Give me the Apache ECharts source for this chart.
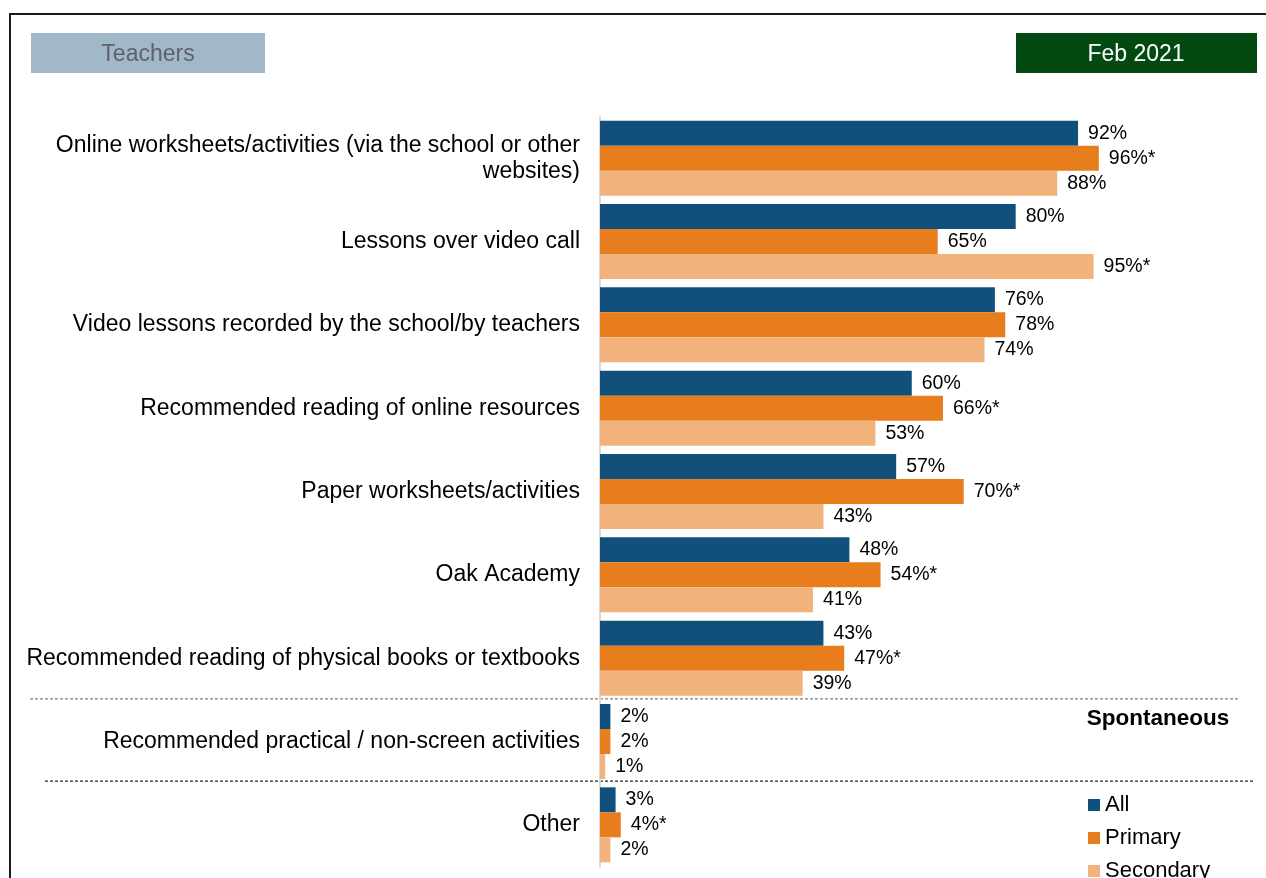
<!DOCTYPE html>
<html>
<head>
<meta charset="utf-8">
<title>Teachers – remote learning resources, Feb 2021</title>
<script src="https://cdn.jsdelivr.net/npm/echarts@6/dist/echarts.min.js"></script>
<style>
  html, body { margin: 0; padding: 0; background: #ffffff; }
  #chart { width: 1266px; height: 878px; }
</style>
</head>
<body>
<div id="chart"></div>
<script>
// Resources used for remote learning, by school phase (% of teachers)
const categories = [
  'Online worksheets/activities (via the school or other websites)',
  'Lessons over video call',
  'Video lessons recorded by the school/by teachers',
  'Recommended reading of online resources',
  'Paper worksheets/activities',
  'Oak Academy',
  'Recommended reading of physical books or textbooks',
  'Recommended practical / non-screen activities',
  'Other'
];
const allValues       = [92, 80, 76, 60, 57, 48, 43, 2, 3];
const primaryValues   = [96, 65, 78, 66, 70, 54, 47, 2, 4];
const secondaryValues = [88, 95, 74, 53, 43, 41, 39, 1, 2];
// significant-difference markers (*) shown after the value
const primaryFlags    = [1, 0, 0, 1, 1, 1, 1, 0, 1];
const secondaryFlags  = [0, 1, 0, 0, 0, 0, 0, 0, 0];
const allFlags        = [0, 0, 0, 0, 0, 0, 0, 0, 0];
const seriesNames = ['All', 'Primary', 'Secondary'];
const headerLeft = 'Teachers';
const headerRight = 'Feb 2021';
const sectionNote = 'Spontaneous';

const colors = ['#10507a', '#e87d1e', '#f2b27b'];
const FONT = '"Liberation Sans", Arial, sans-serif';
const CAT_FONT_SIZE = 23;
const CAT_WRAP_WIDTH = 560;

// word-wrap a category name without leaving trailing spaces on a line
const measureCtx = document.createElement('canvas').getContext('2d');
function wrapLabel(text) {
  measureCtx.font = CAT_FONT_SIZE + 'px ' + FONT;
  const words = text.split(' ');
  const lines = [];
  let line = '';
  words.forEach(function (w) {
    const trial = line ? line + ' ' + w : w;
    if (line && measureCtx.measureText(trial).width > CAT_WRAP_WIDTH) {
      lines.push(line);
      line = w;
    } else {
      line = trial;
    }
  });
  if (line) lines.push(line);
  return lines.join('\n');
}

function makeSeries(name, values, flags, color) {
  return {
    name: name,
    type: 'bar',
    data: values,
    barWidth: 25,
    barGap: '0%',
    itemStyle: { color: color },
    label: {
      show: true,
      position: 'right',
      distance: 10,
      fontFamily: FONT,
      fontSize: 19.5,
      color: '#000000',
      formatter: function (p) { return p.value + '%' + (flags[p.dataIndex] ? '*' : ''); }
    },
    emphasis: { disabled: true }
  };
}

const chart = echarts.init(document.getElementById('chart'), null, { renderer: 'canvas' });

const option = {
  animation: false,
  backgroundColor: '#ffffff',
  grid: { left: 600, right: 146.4, top: 116.5, bottom: 11.5, containLabel: false },
  xAxis: {
    type: 'value', min: 0, max: 100, show: false
  },
  yAxis: {
    type: 'category',
    inverse: true,
    data: categories,
    axisLine: { show: true, lineStyle: { color: '#d9d9d9', width: 2 } },
    axisTick: { show: false },
    axisLabel: {
      margin: 20,
      fontFamily: FONT,
      fontSize: CAT_FONT_SIZE,
      color: '#000000',
      lineHeight: 26,
      align: 'right',
      formatter: wrapLabel
    }
  },
  legend: {
    orient: 'vertical',
    left: 1083,
    top: 789,
    height: 200,
    itemWidth: 12,
    itemHeight: 12,
    itemGap: 11,
    icon: 'rect',
    textStyle: { fontFamily: FONT, fontSize: 22, color: '#000000' },
    data: seriesNames
  },
  series: [
    makeSeries(seriesNames[0], allValues, allFlags, colors[0]),
    makeSeries(seriesNames[1], primaryValues, primaryFlags, colors[1]),
    makeSeries(seriesNames[2], secondaryValues, secondaryFlags, colors[2])
  ]
};
chart.setOption(option);

// Dashed separators between the prompted list and the spontaneous answers,
// placed at category band boundaries taken from the axis itself.
const c6 = chart.convertToPixel({ yAxisIndex: 0 }, categories[6]);
const c7 = chart.convertToPixel({ yAxisIndex: 0 }, categories[7]);
const c8 = chart.convertToPixel({ yAxisIndex: 0 }, categories[8]);
const sep1 = (c6 + c7) / 2 - 1;
const sep2 = (c7 + c8) / 2 - 2;

chart.setOption({
  graphic: [
    // outer frame
    { type: 'rect', shape: { x: 10, y: 14, width: 1300, height: 900 },
      style: { fill: null, stroke: '#1a1a1a', lineWidth: 2 }, silent: true },
    // header boxes
    { type: 'rect', shape: { x: 31, y: 33, width: 234, height: 40 },
      style: { fill: '#a0b8c8' }, silent: true },
    { type: 'text', x: 148, y: 55,
      style: { text: headerLeft, fontFamily: FONT, fontSize: 23, fill: '#5f6366',
               align: 'center', verticalAlign: 'middle' }, silent: true },
    { type: 'rect', shape: { x: 1016, y: 33, width: 241, height: 40 },
      style: { fill: '#024a12' }, silent: true },
    { type: 'text', x: 1136, y: 55,
      style: { text: headerRight, fontFamily: FONT, fontSize: 23, fill: '#ffffff',
               align: 'center', verticalAlign: 'middle' }, silent: true },
    // separators
    { type: 'line', shape: { x1: 30, y1: sep1, x2: 1240, y2: sep1 },
      style: { stroke: '#7f7f7f', lineWidth: 1.2, lineDash: [3, 2] }, silent: true },
    { type: 'line', shape: { x1: 45, y1: sep2, x2: 1255, y2: sep2 },
      style: { stroke: '#222222', lineWidth: 1.2, lineDash: [3, 2] }, silent: true },
    // section note
    { type: 'text', x: 1158, y: sep1 + 20,
      style: { text: sectionNote, fontFamily: FONT, fontSize: 22.5, fontWeight: 'bold',
               fill: '#000000', align: 'center', verticalAlign: 'middle' }, silent: true }
  ]
});
</script>
</body>
</html>
